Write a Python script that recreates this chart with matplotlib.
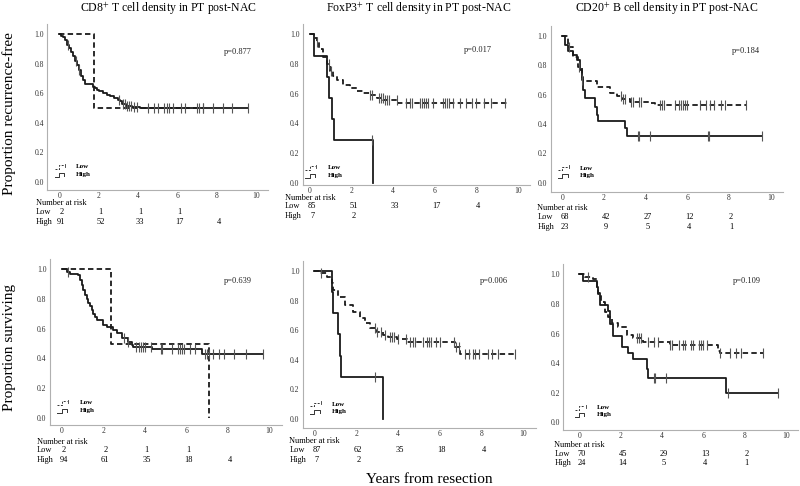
import matplotlib
matplotlib.use('Agg')
import matplotlib.pyplot as plt
import numpy as np

plt.rcParams['font.family'] = ['Liberation Serif', 'DejaVu Serif']
plt.rcParams['mathtext.fontset'] = 'stix'

W, H = 800, 486
XMAX = 10.6
YMAX = 1.07

titles = ['CD8$^{+}$ T cell density in PT post-NAC',
          'FoxP3$^{+}$ T cell density in PT post-NAC',
          'CD20$^{+}$ B cell density in PT post-NAC']
row_labels = ['Proportion recurrence-free', 'Proportion surviving']
pvals = ['p=0.877', 'p=0.017', 'p=0.184', 'p=0.639', 'p=0.006', 'p=0.109']
risk_ticks = [0, 2, 4, 6, 8]

# ---- KM curves: drop times, survival after drop, end of follow-up, censor times
# panel 1: CD8 RFS
p1_low_t = [0, 1.78]
p1_low_s = [1.0, 0.5]
p1_low_end = 7.3
p1_low_c = [7.3]
p1_high_t = [0, 0.1, 0.2, 0.3, 0.4, 0.5, 0.6, 0.7, 0.8, 0.9, 1.0, 1.1, 1.2, 1.3, 1.7, 1.8, 1.9,
             2.0, 2.2, 2.4, 2.6, 2.8, 3.0, 3.1, 3.2, 3.4, 3.7, 4.1]
p1_high_s = [1.0, 0.99, 0.98, 0.96, 0.93, 0.91, 0.88, 0.85, 0.82, 0.79, 0.76, 0.72, 0.69, 0.66,
             0.645, 0.635, 0.625, 0.615, 0.6, 0.59, 0.58, 0.57, 0.555, 0.545, 0.53, 0.515, 0.505, 0.497]
p1_high_end = 9.6
p1_high_c = [0.45, 0.85, 1.0, 3.05, 3.25, 3.35, 3.45, 3.55, 3.65, 3.8, 3.95, 4.5, 4.8, 5.0, 5.3,
             5.5, 5.6, 5.8, 6.2, 6.4, 7.0, 7.1, 7.3, 7.8, 8.3, 8.8, 9.6]

# panel 2: FoxP3 RFS
p2_low_t = [0, 0.2, 0.32, 0.45, 0.64, 0.8, 0.96, 1.1, 1.28, 1.6, 1.93, 2.25, 2.57, 2.9, 3.21, 3.53, 4.25]
p2_low_s = [1.0, 0.975, 0.95, 0.9, 0.85, 0.8, 0.75, 0.72, 0.69, 0.66, 0.636, 0.62, 0.607, 0.59,
            0.573, 0.556, 0.537]
p2_low_end = 9.6
p2_low_c = [0.35, 0.9, 1.0, 2.9, 3.0, 3.3, 3.4, 3.5, 3.6, 3.7, 3.8, 4.2, 4.6, 4.8, 4.9, 5.3, 5.4,
            5.5, 5.6, 5.7, 5.9, 6.4, 6.5, 6.6, 6.7, 6.9, 7.2, 7.5, 7.8, 8.0, 8.4, 8.7, 9.4]
p2_high_t = [0, 0.21, 0.83, 0.93, 1.05, 1.17, 3.05]
p2_high_s = [1.0, 0.857, 0.714, 0.571, 0.429, 0.286, 0.0]
p2_high_end = 3.05
p2_high_c = [2.97]

# panel 3: CD20 RFS
p3_low_t = [0, 0.29, 0.53, 0.77, 0.93, 1.01, 1.65, 2.29, 2.61, 2.85, 3.25, 4.21, 4.45]
p3_low_s = [1.0, 0.927, 0.86, 0.79, 0.72, 0.69, 0.655, 0.614, 0.59, 0.57, 0.553, 0.54, 0.53]
p3_low_end = 8.85
p3_low_c = [0.3, 0.8, 2.8, 2.9, 3.0, 3.3, 3.4, 3.7, 3.8, 4.7, 4.8, 4.9, 5.4, 5.6, 5.7, 5.8, 5.9,
            6.0, 6.6, 6.9, 7.1, 7.3, 7.6, 7.8, 8.8]
p3_high_t = [0, 0.15, 0.29, 0.53, 0.69, 0.85, 0.93, 1.0, 1.09, 1.57, 1.65, 1.73, 3.0, 3.1]
p3_high_s = [1.0, 0.94, 0.9, 0.87, 0.836, 0.768, 0.7, 0.63, 0.575, 0.518, 0.46, 0.42, 0.37, 0.315]
p3_high_end = 9.6
p3_high_c = [0.95, 3.65, 3.7, 4.2, 7.0, 7.05, 9.6]

# panel 4: CD8 OS
p4_low_t = [0, 2.38, 7.1]
p4_low_s = [1.0, 0.5, 0.0]
p4_low_end = 7.1
p4_low_c = []
p4_high_t = [0, 0.24, 0.4, 0.8, 0.88, 0.96, 1.04, 1.12, 1.2, 1.28, 1.36, 1.44, 1.52, 1.6, 1.68,
             2.0, 2.16, 2.49, 2.65, 2.9, 3.2, 3.37, 3.45, 4.33, 6.74]
p4_high_s = [1.0, 0.98, 0.97, 0.96, 0.93, 0.895, 0.86, 0.83, 0.8, 0.775, 0.75, 0.725, 0.7, 0.68,
             0.655, 0.625, 0.61, 0.59, 0.568, 0.535, 0.513, 0.49, 0.475, 0.463, 0.428]
p4_high_end = 9.7
p4_high_c = [0.3, 3.0, 3.2, 3.6, 3.7, 3.8, 3.9, 4.0, 4.3, 4.8, 4.85, 5.3, 5.6, 5.7, 5.8, 5.9, 6.2,
             6.4, 6.9, 7.0, 7.1, 7.3, 7.6, 7.8, 8.3, 8.9, 9.7]

# panel 5: FoxP3 OS
p5_low_t = [0, 0.27, 0.59, 0.83, 0.91, 1.15, 1.47, 1.87, 2.19, 2.43, 2.67, 3.0, 3.3, 3.54, 3.94,
            4.42, 6.73, 6.97]
p5_low_s = [1.0, 0.984, 0.96, 0.916, 0.872, 0.827, 0.77, 0.72, 0.68, 0.646, 0.613, 0.59, 0.568,
            0.552, 0.538, 0.518, 0.484, 0.437]
p5_low_end = 9.6
p5_low_c = [0.3, 2.9, 3.0, 3.2, 3.4, 3.6, 3.7, 3.8, 4.0, 4.4, 4.6, 4.7, 4.8, 5.2, 5.4, 5.5, 5.6,
            5.8, 6.0, 6.7, 6.8, 6.9, 7.2, 7.4, 7.6, 7.7, 7.9, 8.3, 8.5, 8.8, 9.6]
p5_high_t = [0, 0.86, 0.91, 1.15, 1.23, 1.28, 3.3]
p5_high_s = [1.0, 0.857, 0.714, 0.571, 0.429, 0.286, 0.0]
p5_high_end = 3.3
p5_high_c = [2.9]

# panel 6: CD20 OS
p6_low_t = [0, 0.27, 0.68, 0.84, 0.92, 1.03, 1.24, 1.4, 1.57, 1.89, 2.3, 2.6, 3.1, 3.26, 4.39, 6.73, 6.8]
p6_low_s = [1.0, 0.984, 0.966, 0.916, 0.87, 0.815, 0.747, 0.713, 0.668, 0.642, 0.59, 0.567, 0.545,
            0.54, 0.522, 0.484, 0.47]
p6_low_end = 8.9
p6_low_c = [0.4, 2.8, 2.9, 3.0, 3.3, 3.6, 3.8, 4.4, 4.5, 4.8, 5.0, 5.1, 5.4, 5.5, 5.8, 5.9, 6.0,
            6.2, 6.8, 7.3, 7.6, 7.8, 8.9]
p6_high_t = [0, 0.19, 0.84, 0.92, 1.0, 1.4, 1.48, 1.65, 2.05, 2.37, 2.61, 3.26, 3.34, 7.1]
p6_high_s = [1.0, 0.958, 0.917, 0.875, 0.792, 0.75, 0.667, 0.583, 0.51, 0.466, 0.426, 0.36, 0.297, 0.2]
p6_high_end = 9.6
p6_high_c = [3.6, 3.65, 4.2, 7.2, 9.6]

low_risk = [[2, 1, 1, 1], [85, 51, 33, 17, 4], [68, 42, 27, 12, 2],
            [2, 2, 1, 1], [87, 62, 35, 18, 4], [70, 45, 29, 13, 2]]
high_risk = [[91, 52, 33, 17, 4], [7, 2], [23, 9, 5, 4, 1],
             [94, 61, 35, 18, 4], [7, 2], [24, 14, 5, 4, 1]]

curves = [
    ((p1_low_t, p1_low_s, p1_low_end, p1_low_c), (p1_high_t, p1_high_s, p1_high_end, p1_high_c)),
    ((p2_low_t, p2_low_s, p2_low_end, p2_low_c), (p2_high_t, p2_high_s, p2_high_end, p2_high_c)),
    ((p3_low_t, p3_low_s, p3_low_end, p3_low_c), (p3_high_t, p3_high_s, p3_high_end, p3_high_c)),
    ((p4_low_t, p4_low_s, p4_low_end, p4_low_c), (p4_high_t, p4_high_s, p4_high_end, p4_high_c)),
    ((p5_low_t, p5_low_s, p5_low_end, p5_low_c), (p5_high_t, p5_high_s, p5_high_end, p5_high_c)),
    ((p6_low_t, p6_low_s, p6_low_end, p6_low_c), (p6_high_t, p6_high_s, p6_high_end, p6_high_c)),
]

# pixel anchors of each panel: x of year 0, x of year 10, y of 1.0, y of 0.0
anchors = [(59.3, 256.0, 34.3, 181.7), (310.0, 517.7, 34.3, 182.7), (562.3, 770.7, 36.0, 182.7),
           (61.7, 269.3, 269.3, 417.7), (314.3, 523.3, 271.0, 419.0), (579.3, 786.0, 274.3, 422.3)]
xmins = [-0.61, -0.34, -0.56, -0.56, -0.54, -0.77]
ymins = [-0.056, -0.016, -0.061, -0.049, -0.059, -0.052]
ptext_pos = [(8.37, 0.866), (7.41, 0.88), (8.14, 0.885), (7.81, 0.91), (7.93, 0.92), (7.44, 0.943)]
risk_y = [(-0.145, -0.205, -0.273), (-0.102, -0.16, -0.226), (-0.175, -0.236, -0.3),
          (-0.162, -0.218, -0.285), (-0.149, -0.21, -0.277), (-0.15, -0.212, -0.274)]


def rect(x0, x10, y1, y0, xmin, ymin):
    sx = (x10 - x0) / 10.0
    sy = (y0 - y1)
    left = x0 + xmin * sx
    right = x0 + XMAX * sx
    top = y0 - YMAX * sy
    bottom = y0 - ymin * sy
    return [left / W, 1 - bottom / H, (right - left) / W, (bottom - top) / H]


def draw_km(ax, t, s, end, cens, ls):
    t = np.asarray(t, float)
    s = np.asarray(s, float)
    xs = np.append(t, end)
    ys = np.append(s, s[-1])
    if ls == 'dashed':
        ax.step(xs, ys, where='post', color='#1a1a1a', lw=1.3, linestyle=(0, (3.0, 1.8)), zorder=3)
    else:
        ax.step(xs, ys, where='post', color='#1a1a1a', lw=1.3, zorder=4)
    if len(cens):
        c = np.asarray(cens, float)
        cy = s[np.searchsorted(t, c, side='right') - 1]
        ax.plot(c, cy, linestyle='none', marker='|', markersize=6.5, mew=0.8, color='#555555', zorder=5)


fig = plt.figure(figsize=(8, 4.86), dpi=100)

for i in range(6):
    ax = fig.add_axes(rect(*anchors[i], xmins[i], ymins[i]))
    (lt, ls_, le, lc), (ht, hs, he, hc) = curves[i]
    draw_km(ax, lt, ls_, le, lc, 'dashed')
    draw_km(ax, ht, hs, he, hc, 'solid')

    ax.set_xlim(xmins[i], XMAX)
    ax.set_ylim(ymins[i], YMAX)
    ax.set_xticks(np.arange(0, 11, 2))
    ax.set_yticks(np.arange(0, 1.01, 0.2))
    ax.set_yticklabels(['%.1f' % v for v in np.arange(0, 1.01, 0.2)])
    ax.tick_params(length=0, labelsize=5.5, colors='#333333', pad=1.5)
    ax.tick_params(axis='y', pad=2.5)
    for sp in ['top', 'right']:
        ax.spines[sp].set_visible(False)
    for sp in ['left', 'bottom']:
        ax.spines[sp].set_color('#b0b0b0')
        ax.spines[sp].set_linewidth(0.8)

    ax.text(*ptext_pos[i], pvals[i], fontsize=6, color='#222222')

    # legend symbols
    ax.plot([-0.22, 0.0, 0.0, 0.25], [0.085, 0.085, 0.11, 0.11], color='#333333', lw=0.7,
            linestyle=(0, (2, 1.5)), clip_on=False)
    ax.plot([0.3, 0.3], [0.1, 0.12], color='#333333', lw=0.6)
    ax.plot([-0.22, 0.0, 0.0, 0.25, 0.25], [0.035, 0.035, 0.06, 0.06, 0.04], color='#333333', lw=0.7,
            clip_on=False)
    ax.text(0.85, 0.1, 'Low', fontsize=5, fontweight='bold', va='center')
    ax.text(0.85, 0.05, 'High', fontsize=5, fontweight='bold', va='center')

    # number at risk table
    y_nr, y_lo, y_hi = risk_y[i]
    ax.text(-1.2, y_nr, 'Number at risk', fontsize=6, va='center', clip_on=False)
    ax.text(-1.2, y_lo, 'Low', fontsize=6, va='center', clip_on=False)
    ax.text(-1.2, y_hi, 'High', fontsize=6, va='center', clip_on=False)
    for j, v in enumerate(low_risk[i]):
        ax.text(risk_ticks[j] + 0.1, y_lo, str(v), fontsize=6, va='center', ha='center', clip_on=False)
    for j, v in enumerate(high_risk[i]):
        ax.text(risk_ticks[j] + 0.1, y_hi, str(v), fontsize=6, va='center', ha='center', clip_on=False)

# column titles
for cx, ttl in zip([168, 419, 667], titles):
    fig.text(cx / W, 1 - 9 / H, ttl, ha='center', va='center', fontsize=8.5)

fig.text(9 / W, 1 - 114 / H, row_labels[0], rotation=90, ha='center', va='center', fontsize=11)
fig.text(10 / W, 1 - 347.5 / H, row_labels[1], rotation=90, ha='center', va='center', fontsize=11)
fig.text(429 / W, 1 - 479 / H, 'Years from resection', ha='center', va='center', fontsize=11)

fig.savefig('out.png', dpi=100)
